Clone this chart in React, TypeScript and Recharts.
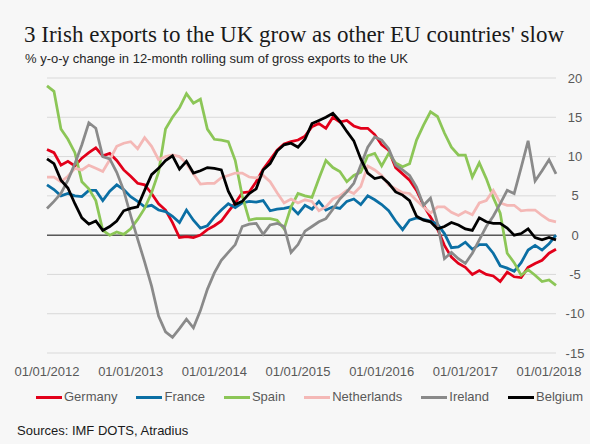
import React from 'react';
import { LineChart, Line, XAxis, YAxis, CartesianGrid, ReferenceLine } from 'recharts';

// monthly, Jan 2012 .. Feb 2018
const yearTicks = [0, 12, 24, 36, 48, 60, 72];
const yearLabels = ['01/01/2012', '01/01/2013', '01/01/2014', '01/01/2015', '01/01/2016', '01/01/2017', '01/01/2018'];
const valueTicks = [-15, -10, -5, 0, 5, 10, 15, 20];

const germany = [
  10.9, 10.5, 8.9, 9.4, 8.8, 9.8, 10.5, 11.1, 10.1, 10.4, 9.5, 8.3, 7.5, 6.6, 6.4, 5.3, 4, 3.2, 1.6, -0.3,
  -0.2, -0.3, 0, 0.7, 1.2, 1.8, 3, 4.1, 5.4, 5.5, 6.8, 8.4, 9.6, 10.8, 11.6, 11.9, 12.1, 12.6, 13.8, 14.2,
  13.6, 15, 14.4, 14.6, 13.9, 13.6, 13.6, 12.8, 11.5, 10.8, 8.6, 7.8, 7, 5.7, 3.8, 2.3, 0.8, -1.3, -2.8, -3.6,
  -4.1, -5, -4.5, -5, -5.2, -5.9, -4.7, -5.3, -5.4, -4.1, -3.6, -3.2, -2.3, -1.8,
];
const france = [
  6.4, 5.8, 5, 5.3, 5, 4.9, 5.7, 5.7, 4.4, 5.6, 6.4, 5.8, 4.9, 4.3, 3.6, 3.8, 3.2, 3, 2.4, 1.6,
  3.2, 1.9, 0.9, 1.2, 2.3, 3.2, 4, 3.5, 4.1, 4.3, 4.2, 4.4, 3.1, 3.3, 3.4, 3.6, 2.7, 3.8, 3.3, 4.3,
  3.2, 3.6, 3.4, 4.3, 4.6, 3.9, 5, 4.5, 3.9, 3.1, 1.8, 0.7, 1.9, 2.2, 2, 1.8, 1.4, 0.2, -1.6, -1.5,
  -0.9, -1.8, -1.2, -1.2, -2.3, -3.9, -4.2, -4.6, -3.5, -1.9, -1.3, -1.9, -1.1, 0,
];
const spain = [
  19, 18.3, 13.5, 12.2, 10.5, 6.8, 5.9, 4.4, 0.6, 0, 0.4, 0.1, 0.8, 2, 3.4, 5.4, 8, 13.5, 15, 16.2,
  18, 16.8, 17.3, 13.5, 12.2, 12.1, 11.9, 9.5, 5, 1.9, 2.1, 2.1, 2.1, 1.9, 0.8, 3.6, 5.3, 5, 4.8, 7.2,
  9.5, 8.6, 8.1, 6.8, 7.6, 8, 10.1, 10.4, 8.8, 10.4, 9.2, 8.7, 9.1, 12.1, 14, 15.7, 15.1, 13, 11.2, 10.2,
  10.2, 7.4, 9.2, 7.2, 4.8, 2.8, -2.3, -3.5, -5.1, -4.4, -5.1, -5.9, -5.7, -6.4,
];
const netherlands = [
  7.4, 7.4, 6.8, 7.5, 8.5, 8.3, 8.9, 8.5, 8.1, 9.6, 11.3, 11.7, 11.9, 11, 12.4, 11.3, 9.6, 10, 10.2, 10,
  9.1, 7.8, 6.5, 6.6, 6.6, 7.3, 7.6, 7.9, 7.9, 7.4, 7.3, 7.6, 6.8, 5.4, 4.1, 4.6, 4.1, 4.5, 4.3, 3.1,
  3.6, 4.6, 5, 5.7, 5.3, 6.2, 8.8, 8.3, 7.6, 6.4, 5.9, 5.4, 5.3, 4.4, 3.6, 2.8, 3.6, 3.6, 2.9, 2.5,
  3, 2.6, 4.1, 4.4, 5.7, 4.1, 3.8, 3.8, 3.1, 3.2, 3.2, 2.5, 1.9, 1.7,
];
const ireland = [
  3.4, 4.3, 5.3, 7, 9.1, 11.5, 14.3, 13.6, 10, 9.7, 8, 5.7, 2.5, -0.5, -3.4, -6.5, -10.3, -12.3, -13, -11.9,
  -10.7, -11.8, -9.6, -6.9, -4.8, -3.2, -2.2, -1.2, 1.1, 1.4, 1.5, 0.1, 1.3, 1.5, 1.1, -2.2, -1.2, 0.5, 1.1, 1.7,
  2.1, 3.3, 4.6, 5.5, 6.6, 8.9, 11.2, 12.5, 12.1, 11, 8.9, 8.3, 7.6, 6.1, 3.8, 4.7, 1.5, -3, -2.2, -3,
  -3.6, -2.3, -0.6, 1.1, 2.4, 4, 5.7, 5.3, 8.6, 12, 6.9, 8.2, 9.6, 7.8,
];
const belgium = [
  9.7, 9.1, 7, 6, 4, 2.2, 1.4, 1.8, 0.6, 1.1, 1.8, 3.1, 3.4, 3.6, 5.7, 7.7, 8.5, 9.5, 10.1, 8.4,
  9.4, 7.9, 8.2, 8.6, 8.5, 8.3, 5.6, 3.9, 4.3, 5.3, 5.9, 8.3, 9.1, 10.7, 11.5, 11.7, 11.2, 12.2, 14.2, 14.6,
  15, 15.5, 14.5, 13.2, 12, 9.7, 7.9, 7.2, 7.4, 6.6, 5.5, 5.1, 4.4, 2.4, 1.9, 1.7, 0.8, 1.1, 1.6, 1.3,
  0.8, 0.6, 2.2, 1.7, 1.5, 1.5, 0.9, 0, 0.2, 0.8, -0.3, -0.6, -0.3, -0.6,
];

const SERIES = [
  { key: 'germany', name: 'Germany', color: '#e2001a', values: germany },
  { key: 'france', name: 'France', color: '#0b6fa4', values: france },
  { key: 'spain', name: 'Spain', color: '#8cc657', values: spain },
  { key: 'netherlands', name: 'Netherlands', color: '#f4b8b6', values: netherlands },
  { key: 'ireland', name: 'Ireland', color: '#8a8a8a', values: ireland },
  { key: 'belgium', name: 'Belgium', color: '#000000', values: belgium },
];

const data = germany.map((_, i) => {
  const row: Record<string, number> = { m: i };
  SERIES.forEach((s) => {
    row[s.key] = s.values[i];
  });
  return row;
});

const SANS = '"Liberation Sans", Arial, sans-serif';
const AXIS_GREY = '#595959';

const XTick = ({ x, y, payload }: any) => (
  <text x={x} y={y + 23} textAnchor="middle" fill={AXIS_GREY} fontSize={13} fontFamily={SANS}>
    {yearLabels[yearTicks.indexOf(payload.value)]}
  </text>
);

const YTick = ({ x, y, payload }: any) => (
  <text x={x + 19} y={y + 4.5} textAnchor="middle" fill={AXIS_GREY} fontSize={13} fontFamily={SANS}>
    {payload.value}
  </text>
);

export default function App() {
  return (
    <div
      style={{
        position: 'absolute',
        left: 0,
        top: 0,
        width: 590,
        height: 444,
        background: '#f7f7f7',
        overflow: 'hidden',
      }}
    >
      <div
        style={{
          position: 'absolute',
          left: 24,
          top: 22,
          fontFamily: '"Liberation Serif", "Times New Roman", serif',
          fontSize: 23,
          lineHeight: '26px',
          color: '#1a1a1a',
          whiteSpace: 'nowrap',
        }}
      >
        3 Irish exports to the UK grow as other EU countries' slow
      </div>
      <div
        style={{
          position: 'absolute',
          left: 25,
          top: 51,
          fontFamily: SANS,
          fontSize: 13,
          lineHeight: '15px',
          color: '#262626',
          whiteSpace: 'nowrap',
        }}
      >
        % y-o-y change in 12-month rolling sum of gross exports to the UK
      </div>

      <div style={{ position: 'absolute', left: 0, top: 0 }}>
        <LineChart width={590} height={444} data={data} margin={{ top: 78, right: 0, bottom: 61, left: 47 }}>
          <CartesianGrid vertical={false} stroke="#d9d9d9" strokeWidth={1} />
          <XAxis
            dataKey="m"
            type="number"
            domain={[0, 73]}
            ticks={yearTicks}
            interval={0}
            axisLine={false}
            tickLine={false}
            tickSize={0}
            tickMargin={0}
            height={30}
            tick={<XTick />}
          />
          <YAxis
            orientation="right"
            domain={[-15, 20]}
            ticks={valueTicks}
            interval={0}
            axisLine={false}
            tickLine={false}
            tickSize={0}
            tickMargin={0}
            width={34}
            tick={<YTick />}
          />
          <ReferenceLine y={0} stroke="#595959" strokeWidth={1.5} />
          {SERIES.map((s) => (
            <Line
              key={s.key}
              type="linear"
              dataKey={s.key}
              name={s.name}
              stroke={s.color}
              strokeWidth={2.75}
              dot={false}
              activeDot={false}
              isAnimationActive={false}
            />
          ))}
        </LineChart>
      </div>

      {/* legend */}
      <div
        style={{
          position: 'absolute',
          left: 36,
          top: 389,
          display: 'flex',
          alignItems: 'center',
          gap: 19,
          fontFamily: SANS,
          fontSize: 13,
          color: AXIS_GREY,
          whiteSpace: 'nowrap',
        }}
      >
        {SERIES.map((s) => (
          <div key={s.key} style={{ display: 'flex', alignItems: 'center' }}>
            <div style={{ width: 26, height: 3, background: s.color, marginRight: 2 }} />
            <span style={{ lineHeight: '16px' }}>{s.name}</span>
          </div>
        ))}
      </div>

      <div
        style={{
          position: 'absolute',
          left: 17,
          top: 423,
          fontFamily: SANS,
          fontSize: 13,
          lineHeight: '15px',
          color: '#1a1a1a',
          whiteSpace: 'nowrap',
        }}
      >
        Sources: IMF DOTS, Atradius
      </div>
    </div>
  );
}
